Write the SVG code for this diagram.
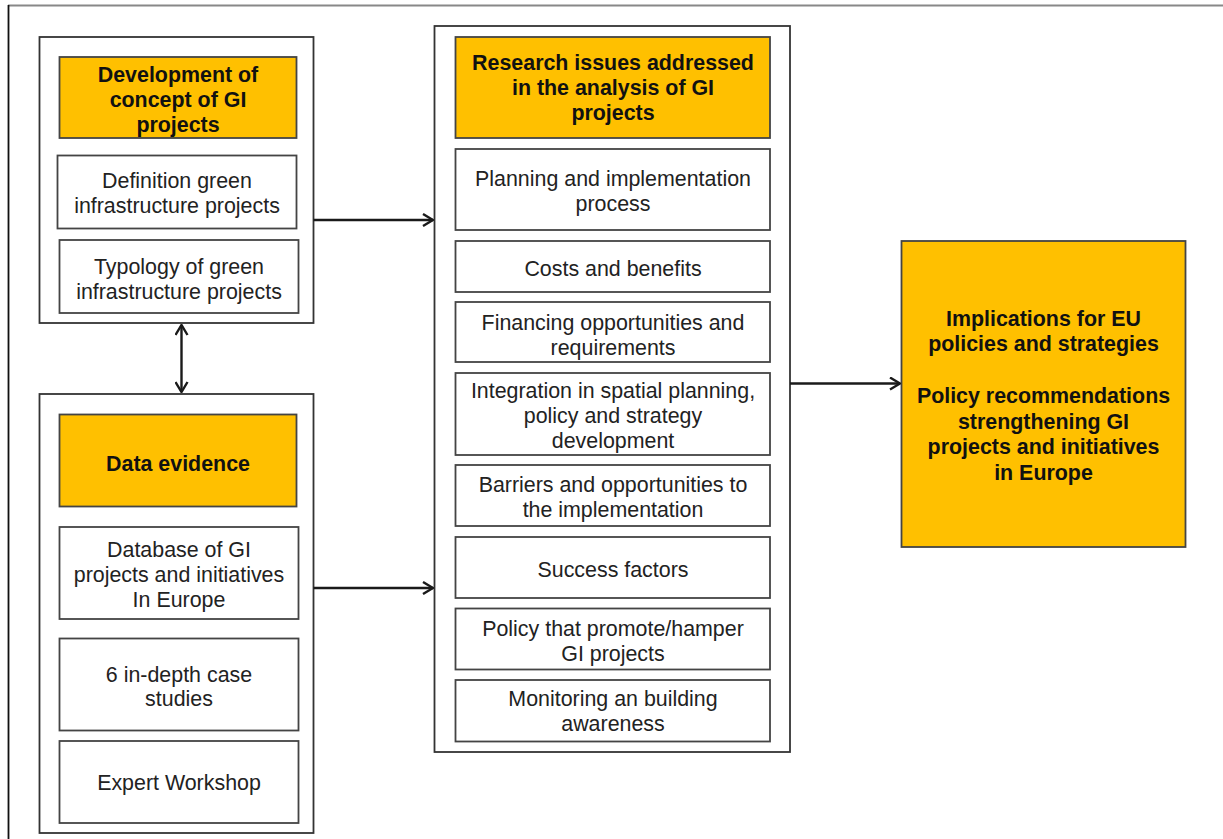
<svg xmlns="http://www.w3.org/2000/svg" width="1223" height="839" viewBox="0 0 1223 839">
<style>
  .grp{fill:#fff;stroke:#333;stroke-width:1.8}
  .box{fill:#fff;stroke:#444;stroke-width:1.8}
  .hdr{fill:#FFC000;stroke:#444;stroke-width:1.8}
  .t{font-family:"Liberation Sans",Arial,sans-serif;font-size:21.4px;fill:#222;text-anchor:middle}
  .b{font-family:"Liberation Sans",Arial,sans-serif;font-size:21.4px;font-weight:bold;fill:#111;text-anchor:middle}
  .c{stroke:#1a1a1a;stroke-width:2.4;fill:none}
</style>
<defs>
  <marker id="arr" viewBox="0 0 12 14" refX="11" refY="7" markerWidth="12" markerHeight="14" markerUnits="userSpaceOnUse" orient="auto-start-reverse">
    <path d="M1,1 L11,7 L1,13" fill="none" stroke="#1a1a1a" stroke-width="2.4"/>
  </marker>
</defs>
<rect width="1223" height="839" fill="#fff"/>
<g id="frame">
  <line x1="8" y1="5.5" x2="1223" y2="5.5" stroke="#888" stroke-width="2"/>
  <line x1="8.5" y1="5" x2="8.5" y2="839" stroke="#111" stroke-width="1.8"/>
</g>
<g id="group-concept">
  <rect class="grp" x="39.5" y="37" width="274" height="286"/>
</g>
<g id="concept-header">
  <rect class="hdr" x="59.5" y="57" width="237" height="81"/>
  <text class="b" x="178" y="81.5">Development of</text>
  <text class="b" x="178" y="106.5">concept of GI</text>
  <text class="b" x="178" y="131.5">projects</text>
</g>
<g id="definition">
  <rect class="box" x="57.5" y="155.5" width="239" height="73"/>
  <text class="t" x="177" y="188">Definition green</text>
  <text class="t" x="177" y="213">infrastructure projects</text>
</g>
<g id="typology">
  <rect class="box" x="59.5" y="240" width="239" height="73"/>
  <text class="t" x="179" y="273.5">Typology of green</text>
  <text class="t" x="179" y="298.5">infrastructure projects</text>
</g>
<g id="group-data">
  <rect class="grp" x="39.5" y="394" width="274" height="439"/>
</g>
<g id="data-header">
  <rect class="hdr" x="59.5" y="414.5" width="237" height="92"/>
  <text class="b" x="178" y="470.5">Data evidence</text>
</g>
<g id="database">
  <rect class="box" x="59.5" y="527" width="239" height="92"/>
  <text class="t" x="179" y="557">Database of GI</text>
  <text class="t" x="179" y="582">projects and initiatives</text>
  <text class="t" x="179" y="607">In Europe</text>
</g>
<g id="case-studies">
  <rect class="box" x="59.5" y="638.5" width="239" height="92"/>
  <text class="t" x="179" y="681.5">6 in-depth case</text>
  <text class="t" x="179" y="706">studies</text>
</g>
<g id="workshop">
  <rect class="box" x="59.5" y="741" width="239" height="82"/>
  <text class="t" x="179" y="790">Expert Workshop</text>
</g>
<g id="group-research">
  <rect class="grp" x="434.5" y="26" width="355.5" height="726" stroke="#555"/>
</g>
<g id="research-header">
  <rect class="hdr" x="455.5" y="37" width="314.5" height="101"/>
  <text class="b" x="613" y="70">Research issues addressed</text>
  <text class="b" x="613" y="95">in the analysis of GI</text>
  <text class="b" x="613" y="120">projects</text>
</g>
<g id="planning">
  <rect class="box" x="455.5" y="149" width="314.5" height="81"/>
  <text class="t" x="613" y="185.5">Planning and implementation</text>
  <text class="t" x="613" y="210.5">process</text>
</g>
<g id="costs">
  <rect class="box" x="455.5" y="241" width="314.5" height="51"/>
  <text class="t" x="613" y="275.5">Costs and benefits</text>
</g>
<g id="financing">
  <rect class="box" x="455.5" y="302" width="314.5" height="60"/>
  <text class="t" x="613" y="329.5">Financing opportunities and</text>
  <text class="t" x="613" y="354.5">requirements</text>
</g>
<g id="integration">
  <rect class="box" x="455.5" y="373" width="314.5" height="82"/>
  <text class="t" x="613" y="397.5">Integration in spatial planning,</text>
  <text class="t" x="613" y="422.5">policy and strategy</text>
  <text class="t" x="613" y="447.5">development</text>
</g>
<g id="barriers">
  <rect class="box" x="455.5" y="465" width="314.5" height="61"/>
  <text class="t" x="613" y="491.5">Barriers and opportunities to</text>
  <text class="t" x="613" y="516.5">the implementation</text>
</g>
<g id="success">
  <rect class="box" x="455.5" y="537" width="314.5" height="61"/>
  <text class="t" x="613" y="576.5">Success factors</text>
</g>
<g id="policy">
  <rect class="box" x="455.5" y="608.5" width="314.5" height="61"/>
  <text class="t" x="613" y="636">Policy that promote/hamper</text>
  <text class="t" x="613" y="661">GI projects</text>
</g>
<g id="monitoring">
  <rect class="box" x="455.5" y="680" width="314.5" height="61.5"/>
  <text class="t" x="613" y="705.5">Monitoring an building</text>
  <text class="t" x="613" y="730.5">awareness</text>
</g>
<g id="implications">
  <rect class="hdr" x="901.5" y="241" width="284" height="306" stroke="#333"/>
  <text class="b" x="1043.5" y="326">Implications for EU</text>
  <text class="b" x="1043.5" y="351">policies and strategies</text>
  <text class="b" x="1043.5" y="403">Policy recommendations</text>
  <text class="b" x="1043.5" y="428.5">strengthening GI</text>
  <text class="b" x="1043.5" y="454">projects and initiatives</text>
  <text class="b" x="1043.5" y="479.5">in Europe</text>
</g>
<g id="connectors">
  <line class="c" x1="313.5" y1="220" x2="433" y2="220" marker-end="url(#arr)"/>
  <line class="c" x1="313.5" y1="588" x2="433" y2="588" marker-end="url(#arr)"/>
  <line class="c" x1="181.5" y1="325" x2="181.5" y2="392" marker-start="url(#arr)" marker-end="url(#arr)"/>
  <line class="c" x1="790" y1="383.5" x2="900" y2="383.5" marker-end="url(#arr)"/>
</g>
</svg>
